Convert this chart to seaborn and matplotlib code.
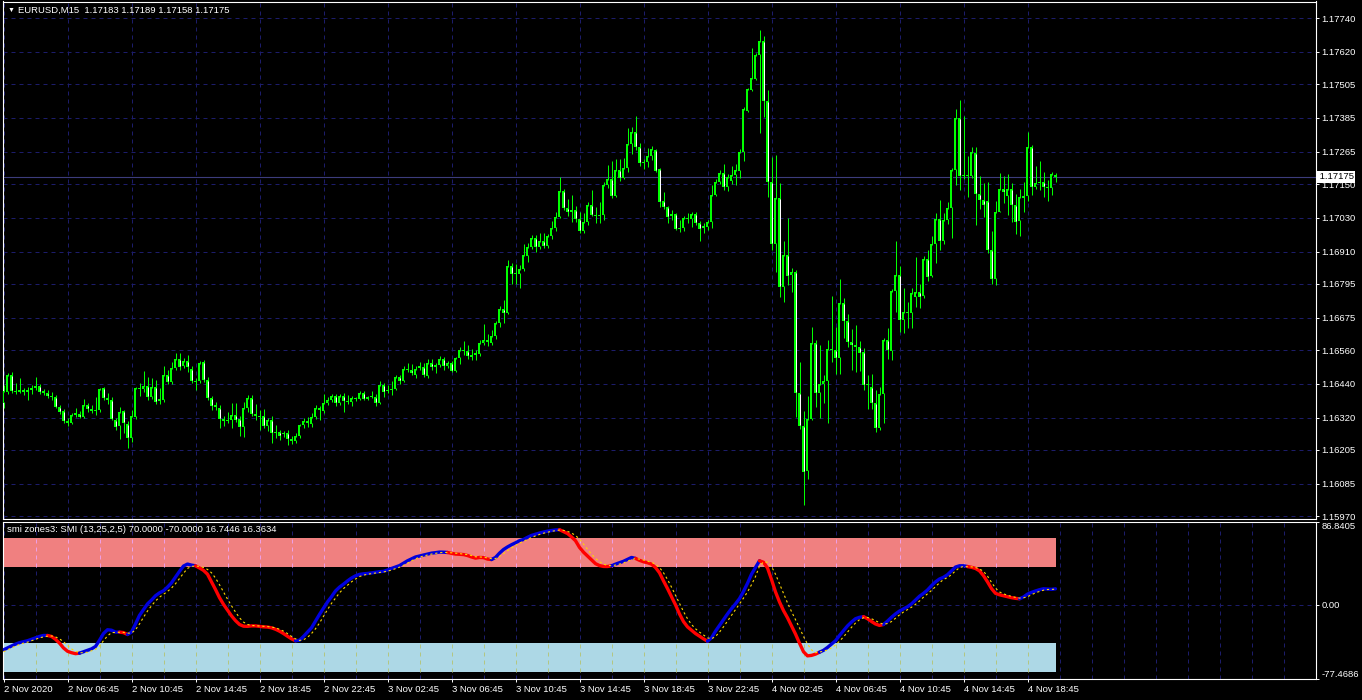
import matplotlib
matplotlib.use('Agg')
import matplotlib.pyplot as plt
import numpy as np
import pandas as pd
import seaborn as sns

# EURUSD M15 bars, prices in points above 1.10000
bar_open = [
    6372, 6411, 6471, 6414, 6411, 6418, 6411, 6418, 6425, 6432,
    6414, 6407, 6397, 6393, 6357, 6343, 6308, 6301, 6329, 6333,
    6322, 6365, 6350, 6343, 6347, 6425, 6389, 6382, 6311, 6290,
    6343, 6297, 6247, 6322, 6425, 6421, 6432, 6393, 6429, 6379,
    6382, 6471, 6446, 6496, 6528, 6503, 6521, 6493, 6450, 6450,
    6518, 6453, 6389, 6365, 6354, 6315, 6308, 6311, 6329, 6315,
    6286, 6354, 6389, 6333, 6326, 6326, 6290, 6311, 6265, 6269,
    6262, 6265, 6244, 6237, 6254, 6293, 6308, 6297, 6322, 6354,
    6343, 6372, 6382, 6397, 6372, 6397, 6379, 6375, 6389, 6386,
    6407, 6386, 6393, 6393, 6372, 6436, 6414, 6418, 6421, 6464,
    6450, 6493, 6489, 6471, 6496, 6500, 6468, 6514, 6500, 6507,
    6528, 6503, 6514, 6485, 6532, 6560, 6557, 6542, 6542, 6546,
    6585, 6596, 6585, 6610, 6656, 6706, 6691, 6859, 6834, 6830,
    6848, 6894, 6926, 6958, 6926, 6947, 6930, 6965, 6994, 7033,
    7125, 7065, 7051, 7058, 7026, 6983, 7015, 7075, 7040, 7036,
    7040, 7147, 7168, 7107, 7200, 7171, 7207, 7292, 7335, 7281,
    7225, 7228, 7249, 7271, 7203, 7090, 7068, 7036, 7043, 6990,
    6994, 7029, 7026, 7043, 7011, 6994, 6997, 7015, 7111, 7157,
    7189, 7140, 7161, 7182, 7196, 7264, 7409, 7484, 7523, 7609,
    7658, 7445, 7157, 6937, 7100, 6784, 6898, 6827, 6837, 6407,
    6290, 6130, 6315, 6585, 6407, 6439, 6450, 6564, 6560, 6532,
    6727, 6663, 6588, 6578, 6571, 6553, 6436, 6429, 6372, 6283,
    6404, 6596, 6557, 6770, 6827, 6667, 6695, 6691, 6749, 6766,
    6752, 6883, 6823, 6937, 7026, 6947, 7022, 7065, 7200, 7385,
    7178, 7182, 7178, 7260, 7115, 7093, 7090, 6916, 6812, 7051,
    7132, 7107, 7132, 7075, 7019, 7100, 7107, 7281, 7140, 7154,
    7157, 7140, 7136, 7183,
]
bar_high = [
    6436, 6478, 6482, 6443, 6460, 6425, 6429, 6436, 6464, 6439,
    6421, 6418, 6411, 6400, 6365, 6350, 6318, 6336, 6354, 6343,
    6386, 6372, 6365, 6393, 6425, 6429, 6407, 6393, 6318, 6357,
    6347, 6308, 6347, 6429, 6443, 6485, 6464, 6460, 6453, 6425,
    6503, 6489, 6518, 6549, 6549, 6532, 6542, 6503, 6460, 6521,
    6525, 6464, 6397, 6375, 6365, 6326, 6340, 6372, 6372, 6326,
    6375, 6400, 6400, 6368, 6347, 6350, 6318, 6326, 6293, 6276,
    6272, 6276, 6254, 6265, 6297, 6318, 6322, 6336, 6365, 6361,
    6404, 6393, 6404, 6404, 6404, 6407, 6400, 6397, 6393, 6414,
    6414, 6397, 6414, 6404, 6450, 6443, 6436, 6450, 6471, 6471,
    6503, 6514, 6510, 6503, 6518, 6514, 6528, 6528, 6514, 6539,
    6535, 6521, 6521, 6535, 6571, 6592, 6578, 6564, 6560, 6596,
    6653, 6617, 6631, 6663, 6716, 6738, 6880, 6869, 6866, 6862,
    6937, 6940, 6969, 6969, 6976, 6976, 6972, 7019, 7051, 7175,
    7132, 7097, 7111, 7072, 7051, 7047, 7086, 7129, 7068, 7086,
    7157, 7218, 7232, 7239, 7239, 7242, 7349, 7353, 7392, 7296,
    7239, 7278, 7285, 7274, 7207, 7122, 7072, 7058, 7047, 7022,
    7036, 7047, 7051, 7051, 7019, 7011, 7022, 7147, 7168, 7200,
    7221, 7186, 7214, 7221, 7274, 7424, 7491, 7633, 7616, 7697,
    7676, 7484, 7246, 7253, 7154, 6947, 7029, 6851, 6844, 6518,
    6343, 6397, 6642, 6596, 6578, 6471, 6596, 6752, 6642, 6812,
    6745, 6688, 6635, 6649, 6592, 6567, 6471, 6475, 6418, 6429,
    6603, 6638, 6777, 6947, 6859, 6780, 6731, 6780, 6891, 6794,
    6894, 6916, 6965, 7047, 7093, 7047, 7086, 7207, 7417, 7449,
    7392, 7249, 7281, 7281, 7178, 7154, 7157, 6983, 7090, 7189,
    7178, 7186, 7154, 7115, 7132, 7157, 7335, 7289, 7214, 7232,
    7193, 7164, 7193, 7189,
]
bar_low = [
    6354, 6404, 6407, 6404, 6407, 6400, 6382, 6404, 6418, 6404,
    6400, 6389, 6382, 6354, 6333, 6301, 6290, 6297, 6322, 6318,
    6318, 6340, 6336, 6329, 6340, 6382, 6368, 6311, 6276, 6244,
    6265, 6212, 6233, 6315, 6397, 6411, 6382, 6386, 6368, 6368,
    6375, 6439, 6439, 6489, 6489, 6496, 6482, 6443, 6418, 6443,
    6446, 6382, 6347, 6347, 6283, 6290, 6301, 6283, 6304, 6254,
    6251, 6340, 6326, 6311, 6276, 6283, 6272, 6229, 6247, 6240,
    6251, 6222, 6226, 6229, 6247, 6283, 6286, 6286, 6315, 6311,
    6336, 6365, 6375, 6361, 6365, 6340, 6368, 6361, 6379, 6382,
    6382, 6382, 6389, 6361, 6368, 6393, 6407, 6400, 6418, 6439,
    6446, 6482, 6471, 6460, 6489, 6464, 6460, 6489, 6478, 6500,
    6489, 6496, 6482, 6482, 6510, 6542, 6528, 6525, 6525, 6539,
    6578, 6574, 6578, 6599, 6642, 6656, 6688, 6794, 6794, 6780,
    6841, 6873, 6919, 6908, 6919, 6923, 6923, 6955, 6983, 7029,
    7058, 7036, 7015, 7015, 6976, 6976, 7004, 7036, 7011, 7011,
    7022, 7136, 7100, 7104, 7161, 7168, 7193, 7257, 7271, 7214,
    7203, 7211, 7235, 7193, 7068, 7061, 7011, 7022, 6987, 6979,
    6983, 7011, 6997, 7004, 6947, 6976, 6987, 6994, 7107, 7150,
    7129, 7125, 7150, 7147, 7171, 7232, 7406, 7481, 7520, 7331,
    7388, 7104, 6916, 6837, 6749, 6731, 6791, 6766, 6322, 6279,
    6009, 6102, 6311, 6357, 6318, 6372, 6301, 6518, 6475, 6475,
    6603, 6571, 6489, 6482, 6485, 6418, 6350, 6350, 6269, 6276,
    6301, 6528, 6525, 6695, 6624, 6620, 6638, 6638, 6713, 6709,
    6745, 6805, 6819, 6869, 6916, 6937, 7008, 6958, 7147, 7129,
    7168, 7104, 7171, 7004, 7061, 7033, 6905, 6794, 6791, 7051,
    7083, 7040, 7015, 6972, 6965, 7051, 7090, 7111, 7132, 7129,
    7104, 7090, 7111, 7158,
]
bar_close = [
    6414, 6471, 6414, 6411, 6418, 6411, 6418, 6425, 6432, 6411,
    6407, 6397, 6393, 6357, 6340, 6308, 6301, 6329, 6336, 6322,
    6365, 6350, 6343, 6347, 6421, 6389, 6382, 6315, 6286, 6340,
    6301, 6247, 6326, 6425, 6421, 6432, 6393, 6429, 6375, 6386,
    6471, 6446, 6496, 6528, 6500, 6521, 6500, 6450, 6446, 6514,
    6453, 6389, 6361, 6357, 6315, 6308, 6311, 6329, 6311, 6286,
    6354, 6389, 6333, 6326, 6322, 6290, 6311, 6265, 6269, 6254,
    6265, 6244, 6237, 6254, 6293, 6308, 6301, 6322, 6354, 6347,
    6372, 6382, 6397, 6372, 6397, 6379, 6375, 6389, 6386, 6407,
    6386, 6393, 6397, 6372, 6436, 6411, 6418, 6421, 6464, 6450,
    6493, 6489, 6478, 6493, 6503, 6471, 6514, 6500, 6507, 6528,
    6503, 6514, 6485, 6532, 6560, 6557, 6539, 6535, 6549, 6585,
    6596, 6588, 6610, 6656, 6706, 6691, 6859, 6830, 6830, 6848,
    6898, 6926, 6958, 6926, 6947, 6930, 6965, 6994, 7033, 7125,
    7065, 7051, 7058, 7026, 6983, 7015, 7075, 7040, 7036, 7040,
    7147, 7168, 7107, 7200, 7171, 7207, 7292, 7335, 7281, 7225,
    7228, 7249, 7274, 7196, 7086, 7068, 7033, 7043, 6990, 6994,
    7029, 7026, 7043, 7011, 6990, 7001, 7015, 7111, 7157, 7189,
    7140, 7175, 7182, 7200, 7264, 7417, 7488, 7527, 7609, 7658,
    7445, 7157, 6937, 7100, 6784, 6898, 6823, 6837, 6407, 6290,
    6127, 6315, 6585, 6407, 6439, 6450, 6564, 6560, 6532, 6727,
    6663, 6588, 6578, 6571, 6549, 6436, 6439, 6372, 6283, 6404,
    6596, 6560, 6770, 6827, 6667, 6695, 6691, 6763, 6766, 6749,
    6883, 6819, 6937, 7026, 6947, 7022, 7065, 7200, 7385, 7178,
    7182, 7178, 7264, 7115, 7093, 7075, 6916, 6812, 7051, 7132,
    7122, 7132, 7075, 7015, 7104, 7107, 7281, 7140, 7154, 7157,
    7140, 7136, 7186, 7175,
]

# SMI (13,25,2,5) main line and its signal, one value per bar
smi_main = [
    -47, -45, -43, -41, -39.5, -38.5, -37.5, -36, -34.5, -33,
    -32, -32, -33, -36, -40, -45, -48.5, -50, -51, -50.5,
    -49, -47.5, -46, -43.5, -37, -30, -26, -26.5, -28.5, -28.5,
    -29, -31, -28.5, -20, -11, -5, 1, 5, 9.5, 12.5,
    14.7, 18.5, 23, 29, 35, 40.5, 42.6, 41.5, 40.8, 38.5,
    36, 32, 24, 16, 7.5, 0.5, -5.5, -11.5, -16.5, -20.5,
    -22.3, -22.5, -22, -22, -22.5, -23, -23.2, -24, -25.5, -27.5,
    -30, -32.8, -35.5, -37.6, -37, -33, -28.5, -24, -17, -10,
    -3.5, 3, 8.5, 14.5, 18.5, 21.6, 25, 28, 30.3, 31.8,
    32.4, 32.8, 33.3, 34, 34.6, 35, 36.4, 38, 39.5, 41,
    43.5, 46, 48, 50, 51, 52, 53, 54, 54.5, 55.1,
    55, 54.7, 53.8, 53, 52.8, 52.5, 51.5, 50, 48.8, 49.5,
    49.3, 47.8, 47.3, 49.5, 54, 57.8, 60.5, 62.8, 64.8, 67,
    68.3, 70.5, 72.5, 73.8, 75, 76, 77, 77.6, 78.2, 78.5,
    76.5, 74.5, 71, 67, 60, 55, 51, 47, 43, 41,
    40.1, 40, 40.8, 42.5, 44, 45.5, 47.5, 49.5, 48.5, 46.5,
    45, 44, 42.5, 39, 33.5, 25, 17, 8.5, 0, -9.5,
    -17.5, -23, -26.5, -30, -32.7, -35.5, -38, -34.5, -27.5, -21.5,
    -15.5, -9.5, -4, 1, 6.5, 14, 22.5, 32, 39, 46,
    44.5, 38.5, 26.5, 13.5, 3, -6, -13.5, -22, -30.5, -40,
    -49, -53.3, -52.8, -51.5, -49.5, -47.5, -44.5, -41, -37.5, -32,
    -27, -22, -18, -14.5, -13, -12.3, -14.5, -17.4, -20, -21.5,
    -20.5, -17, -13, -9.5, -6.5, -4.2, -2, 1, 5, 9,
    12, 15.5, 20, 24, 27, 28.8, 31.5, 35.5, 39.5, 40.8,
    40.8, 40, 39.2, 38, 35.5, 30.5, 24, 17, 12, 10.5,
    9.5, 8.5, 7.5, 6.8, 6.3, 8.2, 11.2, 13, 14.5, 15.8,
    16.8, 16.5, 16.2, 16.7446,
]
smi_signal = [
    -49, -47, -45, -43, -41.5, -40, -39, -37.5, -36, -34.5,
    -33.5, -32.8, -32.5, -33.5, -35.5, -38.5, -42.5, -46, -48.5, -50,
    -50, -49.5, -48, -46.5, -43, -37.5, -32.5, -29, -28.8, -28.7,
    -28.8, -29.6, -29.5, -26, -20, -13, -6.5, -1, 4, 8,
    11, 14, 17.5, 22, 27.5, 33, 38, 40.2, 40.4, 40.3,
    39, 37, 33.5, 28, 21, 13.5, 6, -1, -7.5, -13.5,
    -18, -20.5, -21.5, -21.8, -22, -22.3, -22.7, -23.2, -24, -25.5,
    -27.5, -30, -33, -35.5, -37.2, -36.5, -34, -30, -25, -19,
    -12, -5, 1.5, 7, 12.5, 17, 20.5, 24, 27, 29.5,
    31, 32, 32.6, 33.2, 33.8, 34.4, 35.2, 36.3, 37.8, 39.3,
    41.3, 43.5, 46, 48, 49.8, 51, 52, 53, 53.8, 54.5,
    54.8, 54.6, 54.4, 54, 53.5, 53, 52.5, 51.5, 50.2, 50,
    49.8, 49, 48.2, 48.3, 50.5, 53.5, 56.5, 59.5, 62, 64.5,
    66.5, 68.3, 70.3, 72, 73.5, 74.8, 75.8, 76.8, 77.5, 78.1,
    77.8, 76.8, 75, 72.5, 68.5, 63.5, 58, 53, 48.5, 45,
    42.5, 41.2, 40.9, 41.5, 42.5, 43.8, 45.5, 47.3, 48.2, 47.8,
    46.8, 45.6, 44.4, 42.5, 39, 33.5, 26.5, 18.5, 10, 1.5,
    -7, -14.5, -20.5, -25, -28.5, -31.5, -34.5, -35.5, -33, -28.5,
    -23, -17, -11, -5, 1, 7, 13.5, 21, 29.5, 40.5,
    44.8, 44.5, 40, 32, 22, 12, 2, -7, -15.5, -24,
    -33, -41, -47, -50, -49.2, -48.5, -47, -45, -42, -38,
    -33.5, -28.5, -23.5, -19, -15.5, -13.5, -13.2, -14.5, -16.5, -18.8,
    -20.3, -19.5, -17.5, -14, -10.5, -7.5, -5, -2.5, 0.5, 4,
    8, 11.5, 15, 19, 23, 26.5, 28.5, 31.5, 35.5, 38.8,
    40.2, 39.8, 39.7, 39, 37.5, 35, 30, 23.5, 17.5, 13.5,
    11.5, 10, 8.8, 7.8, 7.0, 7.4, 8.5, 10.5, 12.5, 14,
    15.3, 16, 16.1, 16.3634,
]

time_labels = ['2 Nov 2020', '2 Nov 06:45', '2 Nov 10:45', '2 Nov 14:45',
               '2 Nov 18:45', '2 Nov 22:45', '3 Nov 02:45', '3 Nov 06:45',
               '3 Nov 10:45', '3 Nov 14:45', '3 Nov 18:45', '3 Nov 22:45',
               '4 Nov 02:45', '4 Nov 06:45', '4 Nov 10:45', '4 Nov 14:45',
               '4 Nov 18:45']
price_ticks = [1.17740, 1.17620, 1.17505, 1.17385, 1.17265, 1.17150,
               1.17030, 1.16910, 1.16795, 1.16675, 1.16560, 1.16440,
               1.16320, 1.16205, 1.16085, 1.15970]
smi_ticks = [86.8405, 0.0, -77.4686]
smi_tick_labels = ['86.8405', '0.00', '-77.4686']
upper_zone = (40, 70)
lower_zone = (-70, -40)
last_price = 1.17175
header = 'EURUSD,M15  1.17183 1.17189 1.17158 1.17175'
smi_header = 'smi zones3: SMI (13,25,2,5) 70.0000 -70.0000 16.7446 16.3634'

# colours
GRID = '#1c1c6a'
CANDLE = '#00ff00'
SMI_UP = '#0000dd'
SMI_DOWN = '#ff0000'
SIGNAL = '#ffd700'
ZONE_HI = '#f08080'
ZONE_LO = '#add8e6'
ZONE_HI_GRID = '#ee9ee4'
ZONE_LO_GRID = '#b3c682'
DASH = (0, (4, 4))
FS = 6.8

sns.set_style('dark', {'axes.facecolor': 'black', 'figure.facecolor': 'black',
                       'axes.edgecolor': 'white', 'text.color': 'white',
                       'xtick.color': 'white', 'ytick.color': 'white'})
plt.rcParams['font.family'] = ['Liberation Sans', 'DejaVu Sans']
plt.rcParams['font.size'] = FS

to_price = lambda pts: 1.1 + np.asarray(pts, dtype=float) / 1e5
o, h, l, c = (to_price(v) for v in (bar_open, bar_high, bar_low, bar_close))
h = np.maximum(h, np.maximum(o, c))
l = np.minimum(l, np.minimum(o, c))
bars = np.arange(len(c))

W, H = 1362, 700
def box(x0, y0, x1, y1):
    return [x0 / W, 1 - y1 / H, (x1 - x0) / W, (y1 - y0) / H]

fig = plt.figure(figsize=(W / 100, H / 100), dpi=100)
ax = fig.add_axes(box(2.5, 1.5, 1316, 519))
ax2 = fig.add_axes(box(2.5, 521.7, 1316, 679), sharex=ax)

# 4 px per bar, bar centres on pixel centres
xlim = (-0.25, 328.125)
ylim = (1.159595, 1.177987)
px = (ylim[1] - ylim[0]) / 517.5          # one pixel in price units
grid_x = np.arange(8, xlim[1], 8)

# ---- price panel: lime bodies with a 1px hollow (bull black, bear white)
ax.set_axisbelow(True)
ax.axhline(last_price, color='#3c3c7c', lw=0.8, zorder=1.5)
ax.vlines(bars, l, h, color=CANDLE, lw=0.72, zorder=2)
lo_b, hi_b = np.minimum(o, c), np.maximum(o, c)
ax.bar(bars, np.maximum(hi_b - lo_b, px), bottom=lo_b, width=0.75,
       color=CANDLE, lw=0, zorder=3)
hollow = (hi_b - lo_b) > 2.2 * px
up = c >= o
ax.vlines(bars[hollow], lo_b[hollow] + px, hi_b[hollow] - px,
          colors=np.where(up, 'black', 'white')[hollow], lw=0.72, zorder=4)
ax.set_xlim(*xlim)
ax.set_ylim(*ylim)
ax.set_xticks(grid_x)
ax.tick_params(axis='x', length=0, labelbottom=False)
ax.set_yticks(price_ticks)
ax.set_yticklabels([f'{p:.5f}' for p in price_ticks])
ax.yaxis.tick_right()
ax.tick_params(axis='y', direction='out', length=2.5, width=0.7, pad=1.5,
               colors='white', labelsize=FS, left=False, right=True)
ax.grid(True, color=GRID, linestyle=DASH, linewidth=0.72)
ax.annotate(' ' + f'{last_price:.5f}', xy=(1.0, last_price),
            xycoords=ax.get_yaxis_transform(), xytext=(1, 0),
            textcoords='offset pixels', ha='left', va='center', color='black',
            fontsize=FS, annotation_clip=False, zorder=10,
            bbox=dict(boxstyle='square,pad=0.12', fc='white', ec='none'))

# ---- SMI panel
df = pd.DataFrame({'bar': bars, 'smi': smi_main, 'signal': smi_signal})
rising = (df['smi'] >= df['signal']).to_numpy()
run_id = np.concatenate([[0], np.cumsum(rising[1:] != rising[:-1])])
pieces, palette = [], {}
for r in np.unique(run_id):
    idx = np.flatnonzero(run_id == r)
    key = f'run{r}'
    palette[key] = SMI_UP if rising[idx[0]] else SMI_DOWN
    if idx[0] > 0:
        idx = np.r_[idx[0] - 1, idx]
    pieces.append(df.iloc[idx][['bar', 'smi']].assign(run=key))
smi_df = pd.concat(pieces, ignore_index=True)

ax2.set_axisbelow(True)
ax2.fill_between([bars[0] - 0.5, bars[-1]], *upper_zone, color=ZONE_HI, lw=0, zorder=1)
ax2.fill_between([bars[0] - 0.5, bars[-1]], *lower_zone, color=ZONE_LO, lw=0, zorder=1)
zone_x = grid_x[grid_x <= bars[-1]]
ax2.vlines(zone_x, *upper_zone, colors=ZONE_HI_GRID, linestyles=DASH, lw=0.72, zorder=1.5)
ax2.vlines(zone_x, *lower_zone, colors=ZONE_LO_GRID, linestyles=DASH, lw=0.72, zorder=1.5)

sns.lineplot(data=smi_df, x='bar', y='smi', hue='run', palette=palette,
             estimator=None, sort=False, linewidth=2.4, legend=False,
             ax=ax2, zorder=4)
sns.lineplot(data=df, x='bar', y='signal', color=SIGNAL, linewidth=0.8,
             linestyle=(0, (2, 2.5)), estimator=None, ax=ax2, zorder=5)
ax2.set_xlabel('')
ax2.set_ylabel('')
ax2.set_xlim(*xlim)
ax2.set_ylim(-77.4686, 86.8405)
ax2.set_xticks(bars[::16])
ax2.set_xticklabels(time_labels)
ax2.set_xticks(grid_x, minor=True)
for lbl in ax2.get_xticklabels():
    lbl.set_ha('left')
ax2.tick_params(axis='x', which='major', direction='out', length=2.5,
                width=0.7, pad=1.5, colors='white', labelsize=FS, bottom=True)
ax2.tick_params(axis='x', which='minor', length=0)
ax2.set_yticks(smi_ticks)
ax2.set_yticklabels(smi_tick_labels)
ax2.yaxis.tick_right()
ax2.tick_params(axis='y', direction='out', length=2.5, width=0.7, pad=1.5,
                colors='white', labelsize=FS, left=False, right=True)
ylbls = ax2.get_yticklabels()
ylbls[0].set_va('top')
ylbls[-1].set_va('bottom')
ax2.grid(True, which='both', axis='x', color=GRID, linestyle=DASH, linewidth=0.72)
ax2.grid(True, which='major', axis='y', color=GRID, linestyle=DASH, linewidth=0.72)
ax2.text(0.0034, 0.98, smi_header, transform=ax2.transAxes, ha='left',
         va='top', color='white', fontsize=FS)

for a in (ax, ax2):
    for sp in a.spines.values():
        sp.set_color('white')
        sp.set_linewidth(0.8)

fig.text(7.5 / W, 1 - 10.5 / H, '\u25bc', ha='left', va='center',
         color='white', fontsize=5)
fig.text(18 / W, 1 - 10.5 / H, header, ha='left', va='center',
         color='white', fontsize=FS)

fig.savefig('out.png', dpi=100, facecolor='black')
